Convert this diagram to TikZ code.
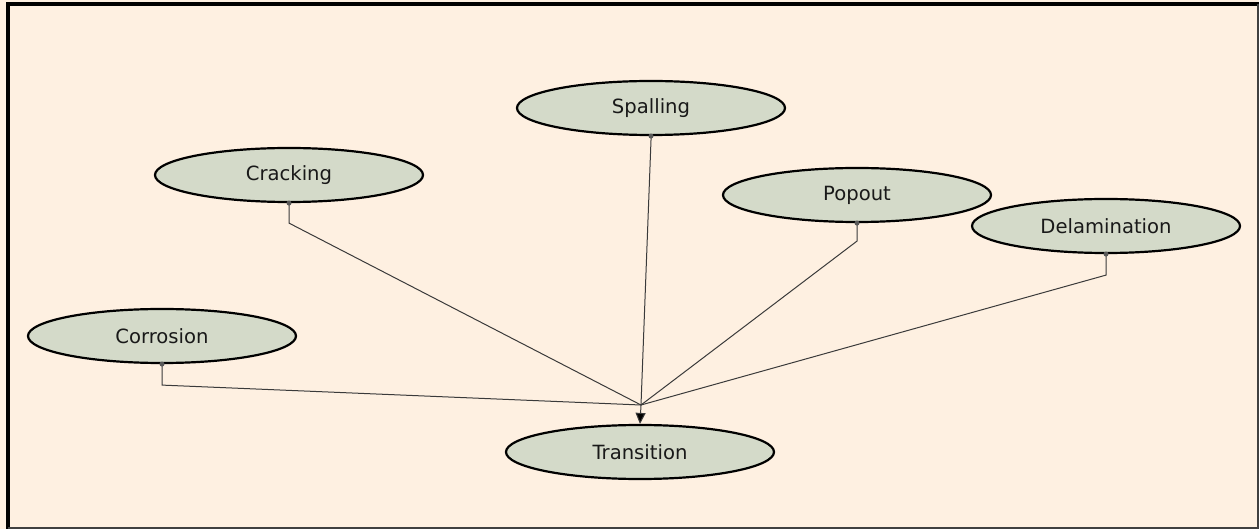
\documentclass[tikz,border=0pt]{standalone}
\usepackage{fontspec}
\setmainfont{DejaVu Sans}
\usetikzlibrary{shapes.geometric,arrows.meta}
\definecolor{paper}{HTML}{FEF0E1}
\definecolor{nodefill}{HTML}{D4DAC9}
\definecolor{wire}{HTML}{3A3A3A}
\tikzset{
  state/.style={ellipse, draw=black, line width=1.1pt, fill=nodefill,
    minimum width=134pt, minimum height=27pt, inner sep=0pt,
    font=\fontsize{9.8}{11}\selectfont, text=black!90},
  wirestyle/.style={draw=wire, line width=0.5pt},
  anchordot/.style={circle, fill=gray!70!black, inner sep=0pt, minimum size=2.5pt}
}
\begin{document}
\begin{tikzpicture}[x=0.5pt,y=-0.5pt]
  % canvas and frame
  \useasboundingbox (0,0) rectangle (1259,529);
  \fill[paper] (0,0) rectangle (1259,529);
  \draw[line width=2pt, black] (8,529) -- (8,4) -- (1259,4);
  \draw[line width=1pt, black!75] (1258,4) -- (1258,528) -- (8,528);

  % nodes
  \node[state] (spall) at (651,108) {Spalling};
  \node[state] (crack) at (289,175) {Cracking};
  \node[state] (pop)   at (857,195) {Popout};
  \node[state] (delam) at (1106,226) {Delamination};
  \node[state] (corr)  at (162,336) {Corrosion};
  \node[state] (trans) at (640,452) {Transition};

  \coordinate (jn) at (641,405);

  % connectors into the junction
  \draw[wirestyle] (spall.south) -- ++(0,4) -- (jn);
  \draw[wirestyle] (crack.south) -- ++(0,20) -- (jn);
  \draw[wirestyle] (pop.south)   -- ++(0,18) -- (jn);
  \draw[wirestyle] (delam.south) -- ++(0,21) -- (jn);
  \draw[wirestyle] (corr.south)  -- ++(0,21) -- (jn);
  \draw[wirestyle, -{Triangle[length=5.5pt,width=5pt,fill=black]}] (jn) -- (trans.north);

  % small anchor marks on the sources
  \foreach \n in {spall,crack,pop,delam,corr}
    \node[anchordot] at (\n.south) {};
\end{tikzpicture}
\end{document}
